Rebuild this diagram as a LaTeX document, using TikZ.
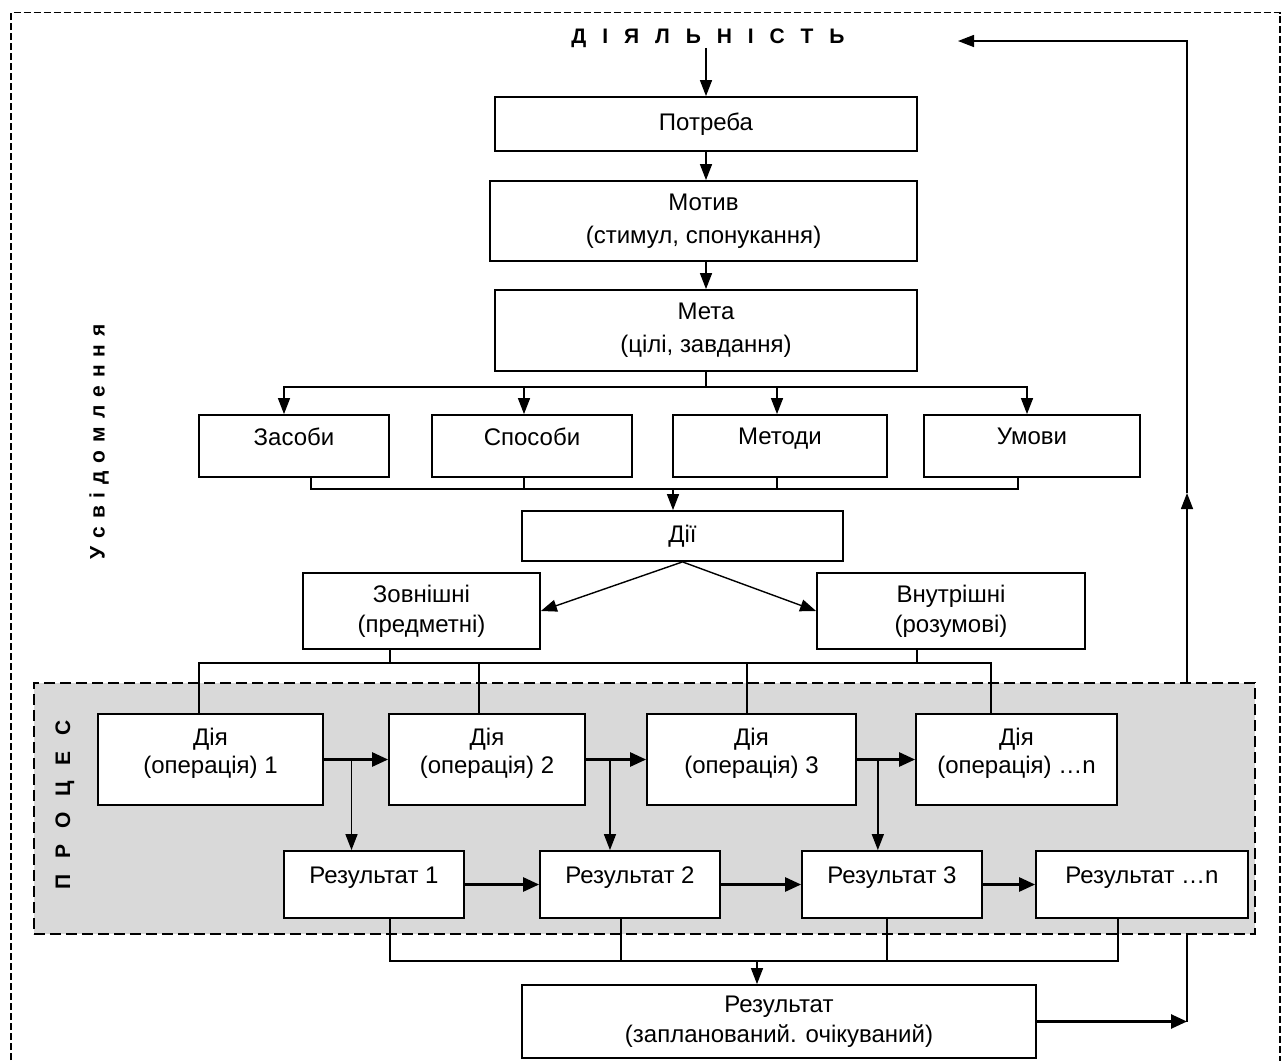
\documentclass[tikz,border=0pt]{standalone}
\usepackage{fontspec}
\setmainfont{Liberation Sans}
\usetikzlibrary{arrows.meta,calc}
\definecolor{procgray}{RGB}{217,217,217}
\begin{document}
\begin{tikzpicture}[x=0.5pt,y=-0.5pt]
        \tikzstyle{box}=[draw, fill=white, line width=0.9pt, inner sep=0pt, align=center, font=\fontsize{12}{15}\selectfont]
        \tikzstyle{wide}=[font=\fontsize{12}{16.5}\selectfont]
        \tikzstyle{low}=[text depth=9.5pt]
        \tikzstyle{lowtwo}=[text depth=8.5pt, font=\fontsize{12}{14}\selectfont]
        \tikzstyle{link}=[line width=0.7pt]
        \tikzstyle{arr}=[link, -{Triangle[length=8pt,width=6pt]}]
        \tikzstyle{boldarr}=[line width=1.3pt, -{Triangle[length=8pt,width=7pt]}]
        \tikzstyle{spaced}=[inner sep=0pt, font=\bfseries\fontsize{10.5}{12}\selectfont]

        \useasboundingbox (0,0) rectangle (1282,1061);
        \draw[line width=0.7pt, dash pattern=on 3.5pt off 1.5pt] (11,1080) |- (1280,12.5) -- (1280,1080);

        \node[spaced] (title) at (708,38) {\addfontfeature{LetterSpace=48}Д І Я Л Ь Н І С Т Ь};
        \node[spaced, rotate=90] (usv) at (99,442) {\addfontfeature{LetterSpace=10}У с в і д о м л е н н я};

        \node[box, minimum width=211pt, minimum height=27pt] (potreba) at (706,124) {Потреба};
        \node[box, wide, minimum width=213.5pt, minimum height=40pt] (motyv) at (703.5,221) {Мотив\\(стимул, спонукання)};
        \node[box, wide, minimum width=211pt, minimum height=40.5pt] (meta) at (706,330.5) {Мета\\(цілі, завдання)};

        \node[box, low, minimum width=95pt, minimum height=31pt] (zasoby) at (294,446) {Засоби};
        \node[box, low, minimum width=100pt, minimum height=31pt] (sposoby) at (532,446) {Способи};
        \node[box, low, minimum width=107pt, minimum height=31pt] (metody) at (780,446) {Методи};
        \node[box, low, minimum width=108pt, minimum height=31pt] (umovy) at (1032,446) {Умови};

        \node[box, minimum width=160.5pt, minimum height=25pt] (dii) at (682.5,536) {Дії};
        \node[box, minimum width=118.5pt, minimum height=38pt] (zovn) at (421.5,611) {Зовнішні\\(предметні)};
        \node[box, minimum width=134pt, minimum height=38pt] (vnutr) at (951,611) {Внутрішні\\(розумові)};

        \node[draw, fill=procgray, line width=1pt, dash pattern=on 5.5pt off 2.5pt, minimum width=610.5pt, minimum height=125.5pt, inner sep=0pt] (proc) at (644.5,808.5) {};
        \node[spaced, rotate=90] (proclabel) at (65,805) {\addfontfeature{LetterSpace=48}П Р О Ц Е С};

        \node[box, lowtwo, minimum width=112.5pt, minimum height=45.5pt] (d1) at (210.5,759.5) {Дія\\(операція) 1};
        \node[box, lowtwo, minimum width=98pt, minimum height=45.5pt] (d2) at (487,759.5) {Дія\\(операція) 2};
        \node[box, lowtwo, minimum width=104.5pt, minimum height=45.5pt] (d3) at (751.5,759.5) {Дія\\(операція) 3};
        \node[box, lowtwo, minimum width=100.5pt, minimum height=45.5pt] (d4) at (1016.5,759.5) {Дія\\(операція) \ldots n};

        \node[box, low, minimum width=90pt, minimum height=33.5pt] (r1) at (374,884.5) {Результат 1};
        \node[box, low, minimum width=90pt, minimum height=33.5pt] (r2) at (630,884.5) {Результат 2};
        \node[box, low, minimum width=90pt, minimum height=33.5pt] (r3) at (892,884.5) {Результат 3};
        \node[box, low, minimum width=106pt, minimum height=33.5pt] (r4) at (1142,884.5) {Результат \ldots n};

        \node[box, minimum width=257pt, minimum height=36.5pt] (res) at (779,1021.5) {Результат\\(запланований. очікуваний)};

        \coordinate (mb) at (706,387);
        \coordinate (jn) at (673,489);
        \coordinate (dj) at (600,663);
        \coordinate (rj) at (757,961);
        \coordinate (fbm) at (1187,493);
        \coordinate (fbend) at (958,41);

        \draw[arr] (potreba.north |- title.south) -- (potreba.north);
        \draw[arr] (potreba.south) -- (potreba.south |- motyv.north);
        \draw[arr] (meta.north |- motyv.south) -- (meta.north);

        \draw[link] (meta.south) -- (mb);
        \draw[arr] (mb) -| ([xshift=-5pt]zasoby.north);
        \draw[arr] (mb) -| ([xshift=-4pt]sposoby.north);
        \draw[arr] (mb) -| ([xshift=-1.5pt]metody.north);
        \draw[arr] (mb) -| ([xshift=-2.5pt]umovy.north);

        \draw[link] ([xshift=8.5pt]zasoby.south) |- (jn);
        \draw[link] ([xshift=-4pt]sposoby.south) |- (jn);
        \draw[link] ([xshift=-1.5pt]metody.south) |- (jn);
        \draw[link] ([xshift=-7pt]umovy.south) |- (jn);
        \draw[arr] (jn) -- (jn |- dii.north);

        \draw[arr] (dii.south) -- (zovn.east);
        \draw[arr] (dii.south) -- (vnutr.west);

        \draw[link] ([xshift=-15.75pt]zovn.south) |- (dj);
        \draw[link] ([xshift=-17pt]vnutr.south) |- (dj);
        \draw[link] ([xshift=-5.75pt]d1.north) |- (dj);
        \draw[link] ([xshift=-4pt]d2.north) |- (dj);
        \draw[link] ([xshift=-2.25pt]d3.north) |- (dj);
        \draw[link] ([xshift=-12.75pt]d4.north) |- (dj);

        \draw[boldarr] (d1.east) -- (d2.west);
        \draw[boldarr] (d2.east) -- (d3.west);
        \draw[boldarr] (d3.east) -- (d4.west);
        \coordinate (b1) at ($(d1.east)!0.43!(d2.west)$);
        \coordinate (b2) at ($(d2.east)!0.4!(d3.west)$);
        \coordinate (b3) at ($(d3.east)!0.36!(d4.west)$);
        \draw[arr] (b1) -- (b1 |- r1.north);
        \draw[arr] (b2) -- (b2 |- r2.north);
        \draw[arr] (b3) -- (b3 |- r3.north);

        \draw[boldarr] (r1.east) -- (r2.west);
        \draw[boldarr] (r2.east) -- (r3.west);
        \draw[boldarr] (r3.east) -- (r4.west);

        \draw[link] ([xshift=8pt]r1.south) |- (rj);
        \draw[link] ([xshift=-4.5pt]r2.south) |- (rj);
        \draw[link] ([xshift=-2.5pt]r3.south) |- (rj);
        \draw[link] ([xshift=-12pt]r4.south) |- (rj);
        \draw[arr] (rj) -- (rj |- res.north);

        \draw[boldarr] (res.east) -- (res.east -| fbm);
        \draw[link] (proc.south -| fbm) -- (res.east -| fbm);
        \draw[arr] (proc.north -| fbm) -- (fbm);
        \draw[arr] (fbm) -- (fbm |- fbend) -- (fbend);
    \end{tikzpicture}
\end{document}
